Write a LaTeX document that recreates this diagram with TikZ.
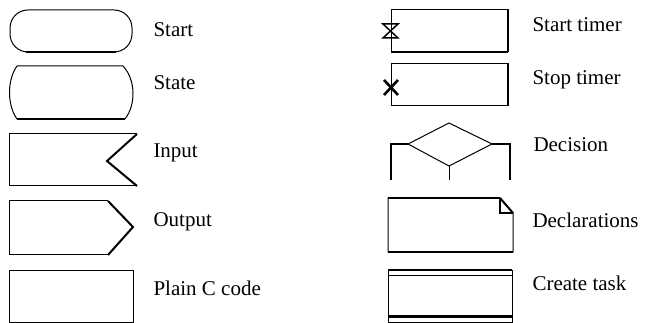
\documentclass[tikz,border=0pt]{standalone}
\usepackage{fontspec}
\setmainfont{Liberation Serif}

\def \thinW {1pt}
\def \thickW {2.6pt}

\tikzset{
  lbl/.style={anchor=base west, inner sep=0pt, font=\fontsize{21}{24}\selectfont},
  thickedge/.style={line width=\thickW},
}

\begin{document}
\begin{tikzpicture}[x=1pt, y=-1pt, line width=\thinW, line join=miter]
      \useasboundingbox (0,0) rectangle (648,323);
      % left column
      \draw[rounded corners=18pt] (10,10) rectangle (132,52);
      \draw[thickedge] (26,52) -- (116,52);
      \node[lbl] (start) at (153,37) {Start};

      \draw (17,66) -- (123,66) .. controls (136,80) and (136,105) .. (125,119)
            -- (17,119) .. controls (7,105) and (7,80) .. (17,66);
      \draw[thickedge] (17,119) -- (125,119);
      \node[lbl] (state) at (153,90) {State};

      \draw (137,134) -- (9,134) -- (9,186) -- (137,186);
      \draw[line width=2pt] (137,134) -- (107,161) -- (137,186);
      \node[lbl] (input) at (153,158) {Input};

      \draw (108,201) -- (9,201) -- (9,255) -- (108,255);
      \draw[line width=2pt] (108,201) -- (133,227) -- (108,255);
      \node[lbl] (output) at (153,226) {Output};

      \draw (9,270) rectangle (133,322);
      \node[lbl] (plainc) at (153,295) {Plain C code};

      % right column
      \draw (391,10) rectangle (508,52);
      \draw[thickedge] (391,52) -- (508,52);
      \draw[line width=2pt] (508,10) -- (508,52);
      \draw[line width=1.5pt] (383,24) -- (398,24) -- (383,38) -- (398,38) -- cycle;
      \node[lbl] (starttimer) at (532,32) {Start timer};

      \draw (391,64) rectangle (508,106);
      \draw[line width=2pt] (508,64) -- (508,106);
      \draw[thickedge] (384,80) -- (398,95);
      \draw[thickedge] (384,95) -- (398,80);
      \node[lbl] (stoptimer) at (532,85) {Stop timer};

      \draw (449,123) -- (492,144) -- (449,166) -- (408,144) -- cycle;
      \draw[line width=1.6pt] (408,144) -- (391,144) -- (391,180);
      \draw[line width=1.6pt] (492,144) -- (510,144) -- (510,180);
      \draw (449,166) -- (449,180);
      \node[lbl] (decision) at (533,152) {Decision};

      \draw (388,198) -- (500,198) -- (513,213) -- (513,252) -- (388,252) -- cycle;
      \draw[thickedge] (388,198) -- (500,198);
      \draw[thickedge] (388,252) -- (513,252);
      \draw[line width=2pt] (500,198) -- (513,213);
      \draw[line width=2pt] (500,198) -- (500,213) -- (513,213);
      \node[lbl] (decl) at (532,228) {Declarations};

      \draw (388,270) rectangle (512,322);
      \draw[line width=2pt] (388,270) -- (512,270);
      \draw (388,275) -- (512,275);
      \draw[line width=3pt] (388,316.5) -- (512,316.5);
      \node[lbl] (createtask) at (532,290) {Create task};
   \end{tikzpicture}
\end{document}
